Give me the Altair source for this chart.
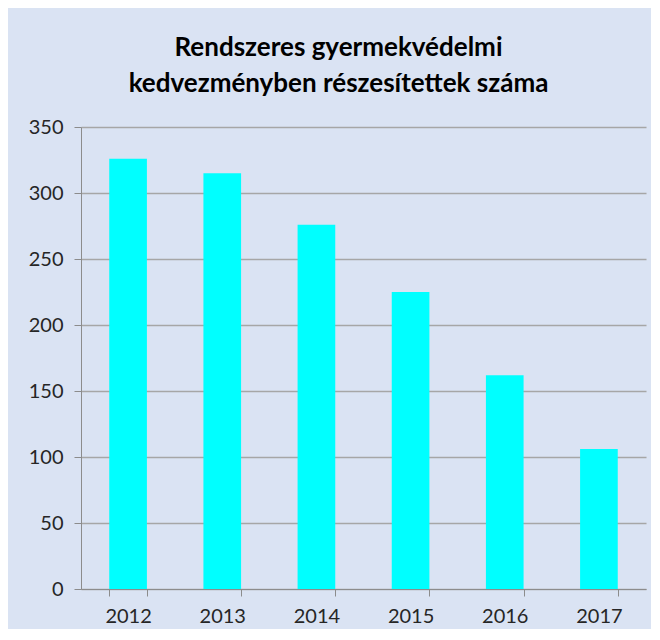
import altair as alt
import pandas as pd

years = ["2012", "2013", "2014", "2015", "2016", "2017"]
counts = [326, 315, 276, 225, 162, 106]
y_ticks = [0, 50, 100, 150, 200, 250, 300, 350]
title_lines = ["Rendszeres gyermekvédelmi", "kedvezményben részesítettek száma"]

df = pd.DataFrame({"year": years, "count": counts})

font = "Lato"

chart = alt.Chart(df).mark_bar(color="#00ffff").encode(
    x=alt.X("year:N", sort=years, title=None,
            scale=alt.Scale(paddingInner=0.6, paddingOuter=0.3),
            axis=alt.Axis(labelAngle=0, tickBand="extent", tickSize=7, labelPadding=10,
                          labelFontSize=20, labelFont=font, labelColor="#262626",
                          domainColor="#8c8c8c", tickColor="#8c8c8c", grid=False)),
    y=alt.Y("count:Q", title=None, scale=alt.Scale(domain=[0, 350], nice=False),
            axis=alt.Axis(values=y_ticks, tickSize=7, labelPadding=11,
                          labelFontSize=20, labelFont=font, labelColor="#262626",
                          domainColor="#8c8c8c", tickColor="#8c8c8c",
                          gridColor="#a6a6a6", gridWidth=1.5)),
).properties(
    width=565, height=462,
    title=alt.TitleParams(title_lines, fontSize=26, font=font, fontWeight="bold",
                          anchor="middle", dx=-25, offset=20, lineHeight=36, color="#000000"),
    background="#dae3f3",
    autosize=alt.AutoSizeParams(type="none"),
    padding={"left": 73, "top": 119, "right": 5, "bottom": 40},
).configure_view(stroke=None)

chart.save("out.html", embed_options={"renderer": "svg", "actions": False})
